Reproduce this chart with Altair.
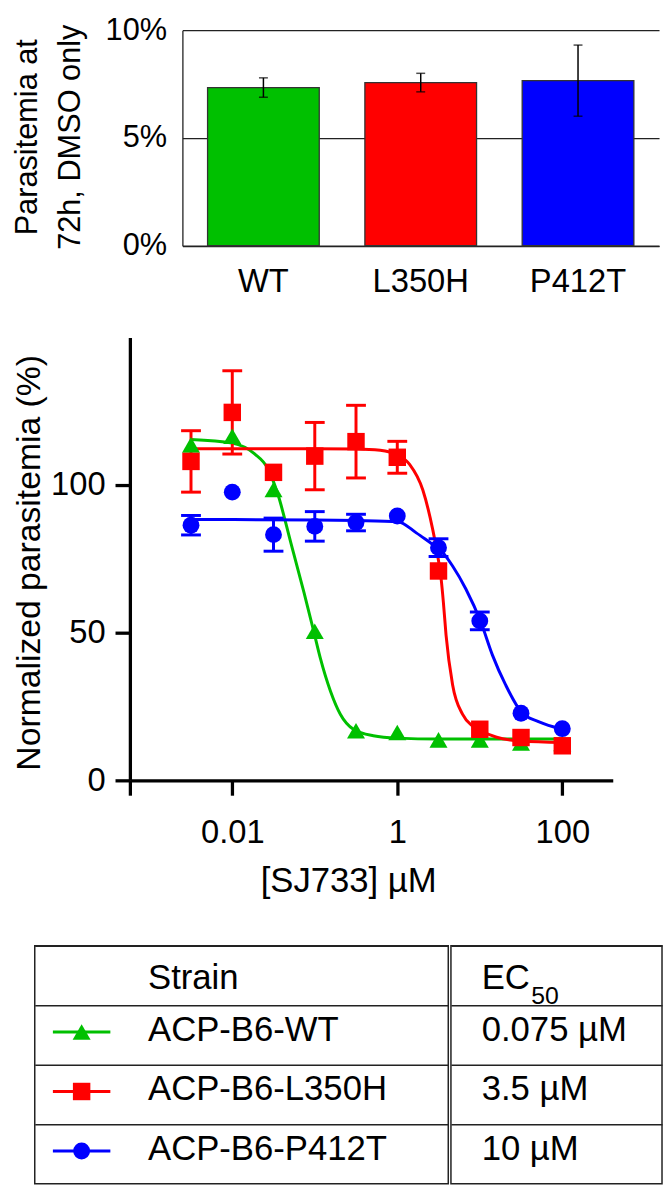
import altair as alt
import pandas as pd

FONT = "Liberation Sans"

# ---------------- data ----------------
strains = ["WT", "L350H", "P412T"]
strain_labels = ["ACP-B6-WT", "ACP-B6-L350H", "ACP-B6-P412T"]
colors = ["#00C000", "#FF0000", "#0000FF"]
shapes = ["triangle-up", "square", "circle"]
marker_sizes = [330, 290, 330]
ec50_labels = ["0.075 µM", "3.5 µM", "10 µM"]

# top panel: parasitemia at 72h, DMSO only
dmso_parasitemia = [0.0734, 0.0757, 0.0766]
dmso_sem = [0.0045, 0.0043, 0.0165]
top_ticks = [0, 0.05, 0.10]

# dose response
conc = [0.00316, 0.01, 0.0316, 0.1, 0.316, 1, 3.16, 10, 31.6, 100]
wt_mean = [113.6, 116.5, 98.5, 50.5, 16.8, 16.2, 13.7, 13.7, 12.7, 12.5]
wt_err = [0, 0, 0, 0, 0, 0, 0, 0, 0, 0]
l350h_mean = [108.0, 124.6, 104.3, 109.8, 114.7, 109.4, 70.9, 17.3, 14.5, 11.7]
l350h_err = [10.4, 14.1, 0, 11.4, 12.3, 5.4, 0, 0, 0, 0]
p412t_mean = [86.4, 97.6, 83.2, 86.0, 87.3, 89.5, 78.8, 54.0, 22.7, 17.5]
p412t_err = [3.3, 0, 5.6, 5.0, 2.8, 0, 3.0, 3.0, 0, 0]

# fitted curves
wt_fit_x = [0.00316, 0.01, 0.0185, 0.0269, 0.0354, 0.0512, 0.0738, 0.0975, 0.117,
            0.155, 0.204, 0.294, 0.512, 1.0, 3.16, 100]
wt_fit_y = [115.4, 114.2, 110.6, 105.6, 97.2, 80.5, 63.7, 50.3, 41.3,
            30.2, 22.4, 17.3, 15.1, 14.3, 14.0, 14.0]
l350h_fit_x = [0.00316, 0.1, 0.316, 0.62, 1.0, 1.41, 2.04, 2.69, 3.09, 3.40, 3.62,
               3.90, 4.68, 6.17, 8.14, 10.3, 16.0, 31.6, 100]
l350h_fit_y = [112.3, 112.3, 112.2, 111.8, 110.2, 107.0, 98.3, 84.9, 76.0, 68.2, 60.3,
               49.2, 32.4, 22.4, 18.4, 16.8, 14.6, 13.3, 12.8]
p412t_fit_x = [0.00316, 0.01, 0.1, 0.324, 1.02, 1.70, 2.69, 3.24, 4.68, 6.78, 10.3,
               14.2, 20.5, 32.4, 51.5, 100]
p412t_fit_y = [88.3, 88.3, 88.2, 88.0, 87.6, 83.8, 79.9, 78.4, 72.6, 64.8, 53.6,
               42.5, 32.4, 22.9, 19.9, 17.3]

x_ticks = [0.01, 1, 100]
y_ticks = [0, 50, 100]
x_domain = [0.000574, 409]
y_domain = [0, 150]

table_rows = ["hdr"] + strains

# ---------------- frames ----------------
top_df = pd.DataFrame({
    "strain": strains,
    "pct": dmso_parasitemia,
    "lo": [v - e for v, e in zip(dmso_parasitemia, dmso_sem)],
    "hi": [v + e for v, e in zip(dmso_parasitemia, dmso_sem)],
})

pt_rows = []
for s, means, errs in zip(strains, [wt_mean, l350h_mean, p412t_mean],
                          [wt_err, l350h_err, p412t_err]):
    for c, v, e in zip(conc, means, errs):
        pt_rows.append({"strain": s, "conc": c, "value": v, "err": e,
                        "lo": v - e, "hi": v + e})
pts_df = pd.DataFrame(pt_rows)

fit_rows = []
for s, xs, ys in zip(strains, [wt_fit_x, l350h_fit_x, p412t_fit_x],
                     [wt_fit_y, l350h_fit_y, p412t_fit_y]):
    for i, (xv, yv) in enumerate(zip(xs, ys)):
        fit_rows.append({"strain": s, "conc": xv, "value": yv, "order": i})
fit_df = pd.DataFrame(fit_rows)

color = alt.Color("strain:N", scale=alt.Scale(domain=strains, range=colors), legend=None)
shape = alt.Shape("strain:N", scale=alt.Scale(domain=strains, range=shapes), legend=None)
size = alt.Size("strain:N", scale=alt.Scale(domain=strains, range=marker_sizes), legend=None)

# ---------------- top bar chart ----------------
top_x = alt.X("strain:N", sort=strains,
              scale=alt.Scale(domain=strains, paddingInner=0.29, paddingOuter=0.16),
              axis=alt.Axis(title=None, labelFontSize=33, labelPadding=20, ticks=False,
                            tickSize=0, domain=True, domainColor="#222", domainWidth=1.3,
                            labelAngle=0, labelColor="black", minExtent=60, maxExtent=60,
                            labelFont=FONT))
top_y_scale = alt.Scale(domain=[0, 0.10], nice=False)
top_y = alt.Y("pct:Q", scale=top_y_scale,
              axis=alt.Axis(values=top_ticks, format=".0%",
                            title=["Parasitemia at", "72h, DMSO only"],
                            titleFontSize=31, titleFontWeight="normal", titleColor="black",
                            titleLineHeight=43, titleX=-147, titleY=107.5,
                            titleAngle=270, titleAlign="center", titleBaseline="alphabetic",
                            titleFont=FONT,
                            labelFontSize=31, labelPadding=16, labelColor="black",
                            labelFont=FONT,
                            ticks=False, tickSize=0, grid=True, gridColor="#222",
                            gridWidth=1.3, gridOpacity=1, domainColor="#222",
                            domainWidth=1.3))

top_base = alt.Chart(top_df)
bars = top_base.mark_bar(stroke="#333", strokeWidth=1.3).encode(
    x=top_x, y=top_y, color=color)
top_err = top_base.mark_rule(color="black", strokeWidth=1.5).encode(
    x=alt.X("strain:N", sort=strains), y=alt.Y("lo:Q"), y2="hi:Q")
top_cap_hi = top_base.mark_tick(color="black", size=9, thickness=1.5,
                                orient="horizontal").encode(
    x=alt.X("strain:N", sort=strains), y=alt.Y("hi:Q"))
top_cap_lo = top_base.mark_tick(color="black", size=9, thickness=1.5,
                                orient="horizontal").encode(
    x=alt.X("strain:N", sort=strains), y=alt.Y("lo:Q"))
top_chart = alt.layer(bars, top_err, top_cap_hi, top_cap_lo).properties(
    width=481, height=217.5)

# ---------------- dose-response chart ----------------
xscale = alt.Scale(type="log", domain=x_domain, nice=False)
yscale = alt.Scale(domain=y_domain, nice=False, zero=False)

x_axis = alt.Axis(values=[x_domain[0]] + x_ticks,
                  labelExpr="datum.value < 0.001 ? '' : format(datum.value, '~g')",
                  title="[SJ733] µM", titleFontSize=35, titleFontWeight="normal",
                  titleColor="black", titleFont=FONT,
                  titleX=220.3, titleY=111.7, titleBaseline="alphabetic",
                  titleAlign="center",
                  labelFontSize=33, labelPadding=22, labelColor="black", labelFont=FONT,
                  labelFlush=False, labelOverlap=False, labelAlign="center",
                  tickSize=15, tickWidth=3.3, tickColor="black",
                  domainColor="black", domainWidth=3.3, grid=False,
                  minExtent=133.6, maxExtent=133.6)
y_axis = alt.Axis(values=y_ticks, title="Normalized parasitemia (%)",
                  titleFontSize=34, titleFontWeight="normal", titleColor="black",
                  titleFont=FONT,
                  titleX=-91.5, titleY=227, titleAngle=270, titleAlign="center",
                  titleBaseline="alphabetic",
                  labelFontSize=33, labelPadding=10, labelColor="black", labelFont=FONT,
                  tickSize=15, tickWidth=3.3, tickColor="black",
                  domainColor="black", domainWidth=3.3, grid=False)

fit_lines = alt.Chart(fit_df).mark_line(strokeWidth=3, interpolate="monotone").encode(
    x=alt.X("conc:Q", scale=xscale, axis=x_axis),
    y=alt.Y("value:Q", scale=yscale, axis=y_axis),
    color=color, detail="strain:N", order="order:Q")

pts_base = alt.Chart(pts_df)
err_rules = pts_base.transform_filter("datum.err > 0").mark_rule(strokeWidth=3).encode(
    x="conc:Q", y="lo:Q", y2="hi:Q", color=color)
err_cap_hi = pts_base.transform_filter("datum.err > 0").mark_tick(
    size=20, thickness=3, orient="horizontal", opacity=1).encode(
    x="conc:Q", y="hi:Q", color=color)
err_cap_lo = pts_base.transform_filter("datum.err > 0").mark_tick(
    size=20, thickness=3, orient="horizontal", opacity=1).encode(
    x="conc:Q", y="lo:Q", color=color)
markers = pts_base.mark_point(filled=True, opacity=1).encode(
    x="conc:Q", y="value:Q", color=color, shape=shape, size=size)

dose_chart = alt.layer(fit_lines, err_rules, err_cap_hi, err_cap_lo, markers).properties(
    width=487.3, height=447)

# ---------------- table ----------------
row_scale = alt.Scale(type="band", domain=table_rows, paddingInner=0, paddingOuter=0)
grid_axis = alt.Axis(title=None, labels=False, ticks=False, domain=False, grid=True,
                     gridColor="#222", gridWidth=1.5, gridOpacity=1, bandPosition=0,
                     minExtent=0, maxExtent=0)

hdr_df = pd.DataFrame({"row": ["hdr"], "strain_text": ["Strain"], "ec_text": ["EC"],
                       "sub_text": ["50"]})
body_df = pd.DataFrame({"row": strains, "strain": strains,
                        "strain_text": strain_labels, "ec_text": ec50_labels})

ty = alt.Y("row:N", scale=row_scale, axis=grid_axis)

l_hdr = alt.Chart(hdr_df).mark_text(align="left", baseline="middle", fontSize=35,
                                    dy=3, color="black", font=FONT).encode(
    x=alt.value(114.3), y=ty, text="strain_text:N")
l_body = alt.Chart(body_df).mark_text(align="left", baseline="middle", fontSize=35,
                                      dy=-5, color="black", font=FONT).encode(
    x=alt.value(114.3), y=ty, text="strain_text:N")
l_rule = alt.Chart(body_df).mark_rule(strokeWidth=3, yOffset=-3).encode(
    x=alt.value(18.3), x2=alt.value(76.3), y=ty, color=color)
l_sym = alt.Chart(body_df).mark_point(filled=True, opacity=1, yOffset=-3).encode(
    x=alt.value(47.3), y=ty, color=color, shape=shape, size=size)
table_left = alt.layer(l_rule, l_sym, l_hdr, l_body).properties(
    width=417.3, height=240,
    view=alt.ViewBackground(stroke="#222", strokeWidth=1.5))

r_hdr = alt.Chart(hdr_df).mark_text(align="left", baseline="middle", fontSize=35,
                                    dy=3, color="black", font=FONT).encode(
    x=alt.value(31), y=ty, text="ec_text:N")
r_sub = alt.Chart(hdr_df).mark_text(align="left", baseline="middle", fontSize=25,
                                    dy=21, color="black", font=FONT).encode(
    x=alt.value(81), y=ty, text="sub_text:N")
r_body = alt.Chart(body_df).mark_text(align="left", baseline="middle", fontSize=35,
                                      dy=-5, color="black", font=FONT).encode(
    x=alt.value(31), y=ty, text="ec_text:N")
table_right = alt.layer(r_hdr, r_sub, r_body).properties(
    width=213, height=240,
    view=alt.ViewBackground(stroke="#222", strokeWidth=1.5))


def spacer(w):
    # empty block that only reserves horizontal room at the left of a row
    return alt.Chart(hdr_df).mark_text(text="", fontSize=1, opacity=0).encode(
        x=alt.value(0), y=alt.value(0)).properties(width=w, height=1)


row1 = alt.hconcat(spacer(1), top_chart, spacing=0)
row2 = alt.hconcat(spacer(1), dose_chart, spacing=0)
row3 = alt.hconcat(spacer(23.7), table_left, table_right, spacing=0)

chart = alt.vconcat(row1, row2, row3, spacing=30).properties(
    padding=0
).configure(font=FONT).configure_view(stroke="transparent")

chart.save("out.html", embed_options={"renderer": "svg", "actions": False})
